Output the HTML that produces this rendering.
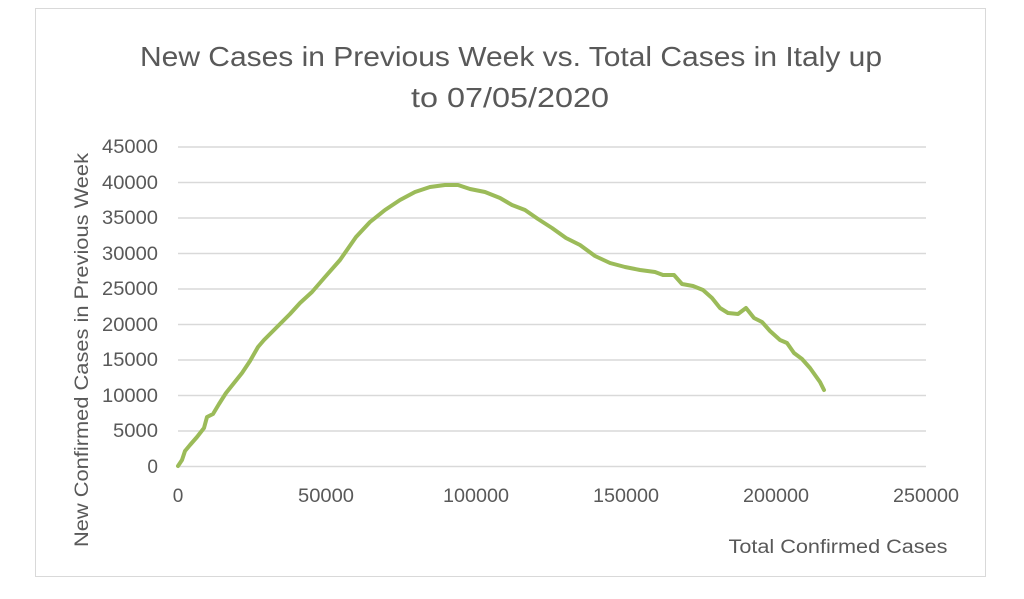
<!DOCTYPE html>
<html><head><meta charset="utf-8"><style>
body{margin:0;background:#fff;}
svg{display:block;font-family:"Liberation Sans",sans-serif;}
</style></head><body>
<svg width="1024" height="599" viewBox="0 0 1024 599">
<rect x="35.5" y="8.5" width="950" height="568" fill="#fff" stroke="#d9d9d9"/>
<g fill="#595959" font-size="28" text-anchor="middle">
<text x="511" y="66" textLength="742" lengthAdjust="spacingAndGlyphs">New Cases in Previous Week vs. Total Cases in Italy up</text>
<text x="510" y="107" textLength="198" lengthAdjust="spacingAndGlyphs">to 07/05/2020</text>
</g>
<g stroke="#d9d9d9" stroke-width="1.5">
<line x1="178" x2="926" y1="147" y2="147"/>
<line x1="178" x2="926" y1="182.5" y2="182.5"/>
<line x1="178" x2="926" y1="218" y2="218"/>
<line x1="178" x2="926" y1="253.5" y2="253.5"/>
<line x1="178" x2="926" y1="289" y2="289"/>
<line x1="178" x2="926" y1="324.5" y2="324.5"/>
<line x1="178" x2="926" y1="360" y2="360"/>
<line x1="178" x2="926" y1="395.5" y2="395.5"/>
<line x1="178" x2="926" y1="431" y2="431"/>
<line x1="178" x2="926" y1="466.5" y2="466.5"/>
</g>
<g fill="#595959" font-size="19" text-anchor="end">
<text x="158" y="153" textLength="56" lengthAdjust="spacingAndGlyphs">45000</text>
<text x="158" y="189" textLength="56" lengthAdjust="spacingAndGlyphs">40000</text>
<text x="158" y="224" textLength="56" lengthAdjust="spacingAndGlyphs">35000</text>
<text x="158" y="260" textLength="56" lengthAdjust="spacingAndGlyphs">30000</text>
<text x="158" y="295" textLength="56" lengthAdjust="spacingAndGlyphs">25000</text>
<text x="158" y="331" textLength="56" lengthAdjust="spacingAndGlyphs">20000</text>
<text x="158" y="366" textLength="56" lengthAdjust="spacingAndGlyphs">15000</text>
<text x="158" y="402" textLength="56" lengthAdjust="spacingAndGlyphs">10000</text>
<text x="158" y="437" textLength="45" lengthAdjust="spacingAndGlyphs">5000</text>
<text x="158" y="473">0</text>
</g>
<g fill="#595959" font-size="19" text-anchor="middle">
<text x="178" y="502">0</text>
<text x="326" y="502" textLength="56" lengthAdjust="spacingAndGlyphs">50000</text>
<text x="476" y="502" textLength="66" lengthAdjust="spacingAndGlyphs">100000</text>
<text x="626" y="502" textLength="66" lengthAdjust="spacingAndGlyphs">150000</text>
<text x="776" y="502" textLength="66" lengthAdjust="spacingAndGlyphs">200000</text>
<text x="926" y="502" textLength="66" lengthAdjust="spacingAndGlyphs">250000</text>
<text x="838" y="553" textLength="219" lengthAdjust="spacingAndGlyphs">Total Confirmed Cases</text>
<text transform="translate(88,350) rotate(-90)" textLength="394" lengthAdjust="spacingAndGlyphs">New Confirmed Cases in Previous Week</text>
</g>
<polyline fill="none" stroke="#9bbb59" stroke-width="4" stroke-linejoin="round" stroke-linecap="round"
points="178,466 182,460 185,451 190,445 197,437 204,428 207,417 213,414 219,404 226,393 234,383 242,373 250,361 258,347 264,340 272,332 280,324 290,314 300,303 312,292 325,277 340,260 356,237 370,222 385,210 400,200 415,192 430,187 445,185 458,185 470,189 485,192 500,198 512,205 525,210 538,219 552,228 566,238 580,245 595,256 610,263 625,267 640,270 655,272 663,275 674,275 682,284 693,286 703,290 712,298 720,308 728,313 738,314 746,308 754,318 762,322 770,331 780,340 787,343 794,353 802,359 810,368 815,375 820,382 824,390"/>
</svg>
</body></html>
